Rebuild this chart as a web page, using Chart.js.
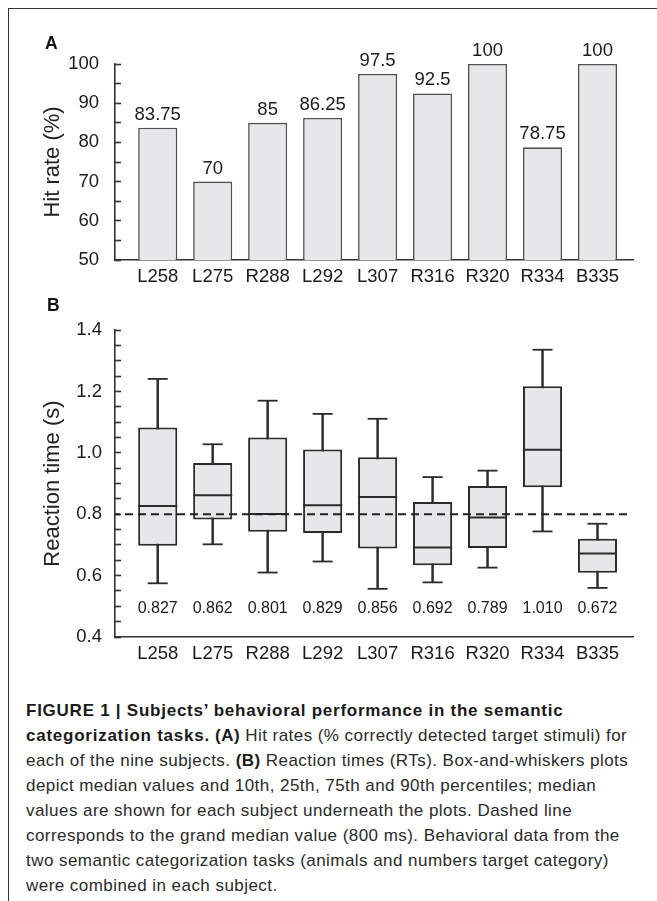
<!DOCTYPE html>
<html><head><meta charset="utf-8">
<script src="https://cdn.jsdelivr.net/npm/chart.js@4.4.1/dist/chart.umd.min.js"></script>
<style>
html,body{margin:0;padding:0;background:#fff;width:657px;height:901px;overflow:hidden;}
#frame{position:absolute;left:8px;top:8px;width:700px;height:1000px;border-top:1.5px solid #333;border-left:1.5px solid #333;}
.wrap{position:absolute;left:0;width:657px;}
#wa{top:0;height:300px;}
#wb{top:300px;height:380px;}
canvas{display:block;}
.panel{position:absolute;font:bold 17.5px/17.5px "Liberation Sans",Arial,sans-serif;color:#111;}
#caption{position:absolute;left:26px;top:698px;font:17px/25px "Liberation Sans",Arial,sans-serif;letter-spacing:0.45px;color:#2a2a2a;white-space:nowrap;}
#caption b{color:#1a1a1a;}
#caption b.l{letter-spacing:0.75px;}
</style></head>
<body>
<div id="frame"></div>
<div class="wrap" id="wa"><canvas id="ca" width="657" height="300"></canvas></div>
<div class="wrap" id="wb"><canvas id="cb" width="657" height="380"></canvas></div>
<div class="panel" style="left:45px;top:35px;">A</div>
<div class="panel" style="left:47px;top:297px;">B</div>
<div id="caption"><b class="l">FIGURE 1 | Subjects’ behavioral performance in the semantic</b><br><b class="l">categorization tasks.</b> <b>(A)</b> Hit rates (% correctly detected target stimuli) for<br>each of the nine subjects. <b>(B)</b> Reaction times (RTs). Box-and-whiskers plots<br>depict median values and 10th, 25th, 75th and 90th percentiles; median<br>values are shown for each subject underneath the plots. Dashed line<br>corresponds to the grand median value (800 ms). Behavioral data from the<br>two semantic categorization tasks (animals and numbers target category)<br>were combined in each subject.</div>
<script>
// ---------- data ----------
const subjects = ['L258','L275','R288','L292','L307','R316','R320','R334','B335'];
const hitRates = [83.75, 70, 85, 86.25, 97.5, 92.5, 100, 78.75, 100];
const hitRateLabels = ['83.75','70','85','86.25','97.5','92.5','100','78.75','100'];
const hitTickLabels = ['50','60','70','80','90','100'];

const rtP10    = [0.575, 0.702, 0.610, 0.646, 0.557, 0.578, 0.626, 0.744, 0.560];
const rtQ1     = [0.697, 0.783, 0.743, 0.739, 0.688, 0.634, 0.690, 0.888, 0.609];
const rtMedian = [0.827, 0.862, 0.801, 0.829, 0.856, 0.692, 0.789, 1.010, 0.672];
const rtQ3     = [1.083, 0.967, 1.050, 1.011, 0.986, 0.840, 0.892, 1.217, 0.720];
const rtP90    = [1.241, 1.028, 1.170, 1.127, 1.111, 0.921, 0.942, 1.336, 0.769];
const rtMedianLabels = ['0.827','0.862','0.801','0.829','0.856','0.692','0.789','1.010','0.672'];
const rtTickLabels = ['0.4','0.6','0.8','1.0','1.2','1.4'];
const grandMedian = 0.8;

// ---------- helpers ----------
Chart.defaults.font.family = '"Liberation Sans", Arial, Helvetica, sans-serif';
Chart.defaults.color = '#1a1a1a';
const AXIS = '#333';

function tickBuilder(labels, subdiv){
  const majors = labels.map(Number);
  return function(scale){
    const t = [];
    for (let k = 0; k < majors.length; k++){
      t.push({value: majors[k]});
      if (k < majors.length - 1){
        const step = (majors[k+1] - majors[k]) / subdiv;
        for (let m = 1; m < subdiv; m++) t.push({value: majors[k] + step*m});
      }
    }
    scale.ticks = t;
  };
}
function tickLabeler(labels){
  const majors = labels.map(Number);
  return function(v){
    for (let k = 0; k < majors.length; k++) if (Math.abs(v - majors[k]) < 1e-6) return labels[k];
    return '';
  };
}
function xAxis(fixedHeight, pad){
  return {
    type:'linear', min:-0.777, max:8.646, offset:false,
    afterBuildTicks: s => { s.ticks = subjects.map((_, i) => ({value:i})); },
    afterFit: s => { s.height = fixedHeight; },
    ticks:{ autoSkip:false, maxRotation:0, padding:pad, font:{size:18.5}, color:'#1a1a1a',
      callback: v => subjects[v] },
    grid:{ display:true, drawOnChartArea:false, drawTicks:false },
    border:{ display:true, color:AXIS, width:1.6 }
  };
}
function yAxis(min, max, labels, subdiv, title, pad, titlePad){
  return {
    type:'linear', min:min, max:max,
    afterBuildTicks: tickBuilder(labels, subdiv),
    afterFit: s => { s.width = 115; },
    ticks:{ autoSkip:false, padding:pad, font:{size:18.5}, color:'#1a1a1a', callback: tickLabeler(labels) },
    grid:{ display:true, drawOnChartArea:false, drawTicks:true, tickLength:-6, tickWidth:1.6, tickColor:AXIS },
    border:{ display:true, color:AXIS, width:1.6 },
    title:{ display:true, text:title, font:{size:22}, color:'#222', padding:{top:titlePad, bottom:0} }
  };
}

// ---------- plugins ----------
const barValueLabels = {
  id:'barValueLabels',
  afterDatasetsDraw(chart, args, opts){
    const meta = chart.getDatasetMeta(0), ctx = chart.ctx;
    ctx.save();
    ctx.font = '18.5px "Liberation Sans", Arial, sans-serif';
    ctx.fillStyle = '#1a1a1a'; ctx.textAlign = 'center'; ctx.textBaseline = 'alphabetic';
    meta.data.forEach((el, i) => ctx.fillText(hitRateLabels[i], el.x, el.y - 8));
    ctx.restore();
  }
};
const rtExtras = {
  id:'rtExtras',
  afterDatasetsDraw(chart, args, opts){
    const ctx = chart.ctx, xs = chart.scales.x, ys = chart.scales.y, a = chart.chartArea;
    ctx.save();
    // grand median dashed line
    const y = ys.getPixelForValue(grandMedian);
    ctx.strokeStyle = '#222'; ctx.lineWidth = 1.8; ctx.setLineDash([8,5]); ctx.lineDashOffset = -10;
    ctx.beginPath(); ctx.moveTo(a.left, y); ctx.lineTo(a.right - 3, y); ctx.stroke();
    ctx.setLineDash([]);
    // median labels
    ctx.font = '16px "Liberation Sans", Arial, sans-serif';
    ctx.fillStyle = '#1a1a1a'; ctx.textAlign = 'center'; ctx.textBaseline = 'alphabetic';
    const ly = ys.getPixelForValue(opts.labelAt);
    rtMedianLabels.forEach((t, i) => ctx.fillText(t, xs.getPixelForValue(i), ly));
    ctx.restore();
  }
};

// ---------- chart A ----------
new Chart(document.getElementById('ca'), {
  type:'bar',
  data:{ datasets:[{
    data: subjects.map((s, i) => ({x:i, y:hitRates[i]})),
    backgroundColor:'#e6e7e9', borderColor:'#505050', borderWidth:1.6,
    barPercentage:0.9, categoryPercentage:0.79
  }]},
  options:{
    responsive:false, animation:false, events:[],
    layout:{ padding:{ left:0, right:24, top:64, bottom:0 } },
    plugins:{ legend:{display:false}, tooltip:{enabled:false} },
    scales:{
      x: xAxis(40, 6),
      y: yAxis(50, 100, hitTickLabels, 2, 'Hit rate (%)', 22, 40)
    }
  },
  plugins:[barValueLabels]
});

// ---------- chart B ----------
const BOX = '#2b2b2b';
new Chart(document.getElementById('cb'), {
  type:'bar',
  data:{ datasets:[
    { // whiskers
      type:'bar', order:3, grouped:false,
      data: subjects.map((s, i) => ({x:i, y:[rtP10[i], rtP90[i]]})),
      backgroundColor:BOX, borderWidth:0, barThickness:1.8
    },
    { // boxes
      type:'bar', order:2, grouped:false,
      data: subjects.map((s, i) => ({x:i, y:[rtQ1[i], rtQ3[i]]})),
      backgroundColor:'#e6e7e9', borderColor:BOX, borderWidth:2, borderSkipped:false,
      barPercentage:0.9, categoryPercentage:0.79
    },
    { // medians
      type:'line', order:1, showLine:false,
      data: subjects.map((s, i) => ({x:i, y:rtMedian[i]})),
      pointStyle:'line', pointRadius:19.6, pointBorderWidth:2, pointBorderColor:BOX
    },
    { // whisker caps
      type:'line', order:1, showLine:false,
      data: subjects.map((s, i) => ({x:i, y:rtP10[i]})).concat(subjects.map((s, i) => ({x:i, y:rtP90[i]}))),
      pointStyle:'line', pointRadius:10, pointBorderWidth:1.8, pointBorderColor:BOX
    }
  ]},
  options:{
    responsive:false, animation:false, events:[],
    layout:{ padding:{ left:0, right:24, top:23.5, bottom:0 } },
    plugins:{ legend:{display:false}, tooltip:{enabled:false}, rtExtras:{ labelAt:0.478 } },
    scales:{
      x: xAxis(43, 6),
      y: yAxis(0.4, 1.4, rtTickLabels, 4, 'Reaction time (s)', 19, 40)
    }
  },
  plugins:[rtExtras]
});
</script>
</body></html>
